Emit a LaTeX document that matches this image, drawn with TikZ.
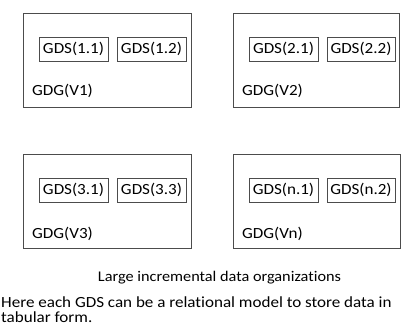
\documentclass[tikz,border=0pt]{standalone}
\usepackage{fontspec}
\setmainfont{Carlito}[Ligatures=NoCommon,FakeStretch=1.1]
\begin{document}
\begin{tikzpicture}[x=1pt,y=-1pt,
  outerbox/.style={draw=black!70,line width=1pt},
  gdsbox/.style={draw=black!70,line width=1pt,minimum height=24pt,inner sep=0pt,font=\fontsize{15.5}{18}\selectfont},
  gdglabel/.style={anchor=west,inner sep=0pt,font=\fontsize{15.5}{18}\selectfont},
  caption/.style={inner sep=0pt,font=\fontsize{14.8}{18}\selectfont},
  para/.style={inner sep=0pt,anchor=base west,font=\fontsize{15.5}{18}\selectfont}]
\useasboundingbox (0,0) rectangle (401,327);
% box 1
\draw[outerbox] (23,13) rectangle (191,107);
\node[gdsbox,minimum width=69pt] (g11) at (73.5,49) {GDS(1.1)};
\node[gdsbox,minimum width=69pt] (g12) at (151.5,49) {GDS(1.2)};
\node[gdglabel] (v1) at (32,91) {GDG(V1)};
% box 2
\draw[outerbox] (233,13) rectangle (399,107);
\node[gdsbox,minimum width=69pt] (g21) at (283.5,49) {GDS(2.1)};
\node[gdsbox,minimum width=68pt] (g22) at (361,49) {GDS(2.2)};
\node[gdglabel] (v2) at (242,91) {GDG(V2)};
% box 3
\draw[outerbox] (23,154) rectangle (191,248);
\node[gdsbox,minimum width=69pt] (g31) at (73.5,190) {GDS(3.1)};
\node[gdsbox,minimum width=69pt] (g33) at (151.5,190) {GDS(3.3)};
\node[gdglabel] (v3) at (32,234) {GDG(V3)};
% box 4
\draw[outerbox] (233,154) rectangle (400,248);
\node[gdsbox,minimum width=69pt] (gn1) at (283.5,190) {GDS(n.1)};
\node[gdsbox,minimum width=68pt] (gn2) at (361,190) {GDS(n.2)};
\node[gdglabel] (vn) at (242,234) {GDG(Vn)};
% captions
\node[caption] (cap) at (219.5,278) {Large incremental data organizations};
\node[para] (l1) at (1,307.5) {Here each GDS can be a relational model to store data in};
\node[para] (l2) at (1,322.5) {tabular form.};
\end{tikzpicture}
\end{document}
